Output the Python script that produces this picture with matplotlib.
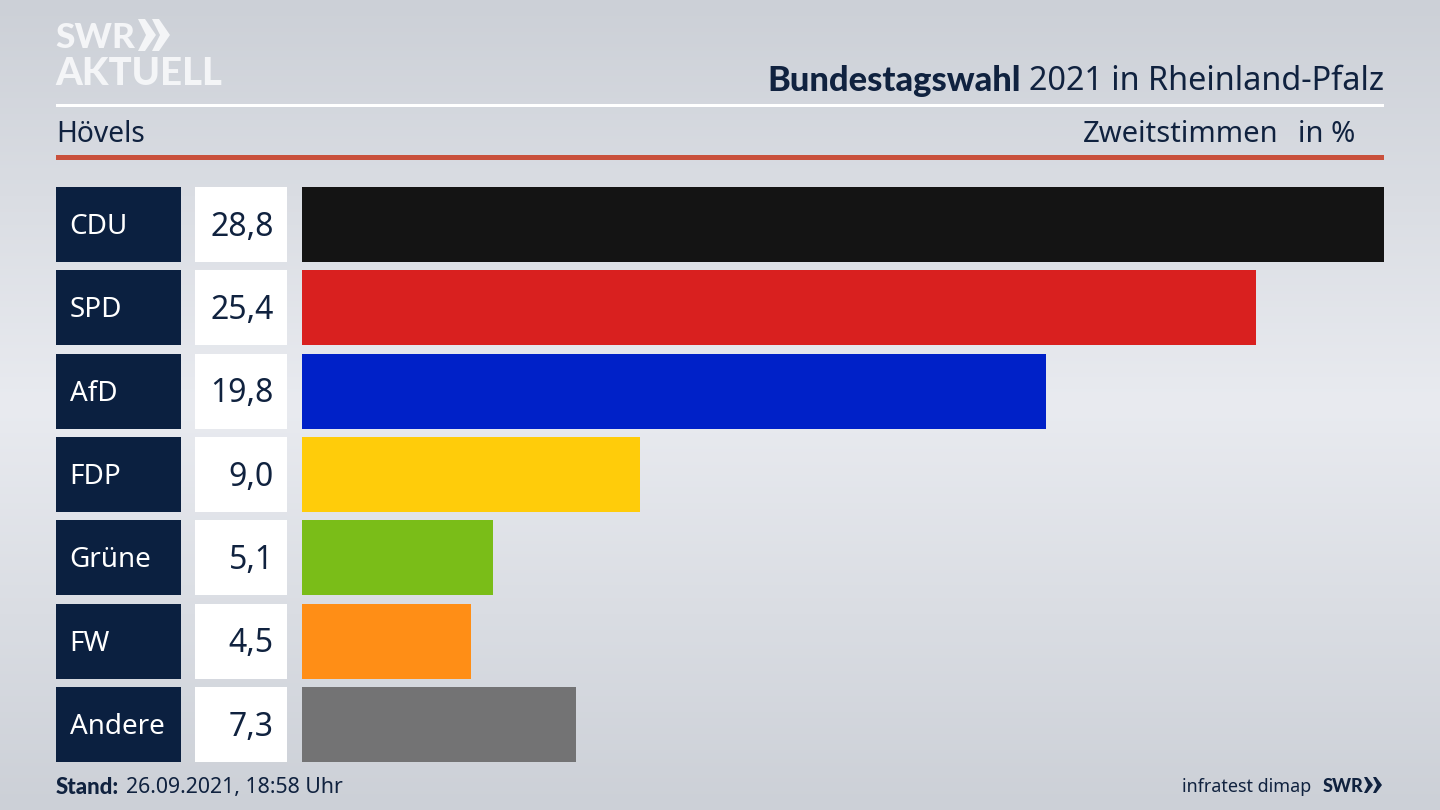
import numpy as np
import matplotlib as mpl
mpl.use('Agg')
import matplotlib.pyplot as plt
from matplotlib.patches import Polygon, Rectangle
from matplotlib.transforms import blended_transform_factory

plt.rcParams['font.family'] = ['Noto Sans', 'DejaVu Sans']

parties = ['CDU', 'SPD', 'AfD', 'FDP', 'Grüne', 'FW', 'Andere']
values = [28.8, 25.4, 19.8, 9.0, 5.1, 4.5, 7.3]
value_labels = ['28,8', '25,4', '19,8', '9,0', '5,1', '4,5', '7,3']
colors = ['#141414', '#d9201f', '#0021c8', '#ffcc0a', '#7abd18', '#ff8e16', '#737374']

NAVY = '#0b2040'
TEXT = '#10223f'
LOGO = '#f4f5f7'
BOLD = ['Lato', 'DejaVu Sans']
W, H = 1440, 810

fig = plt.figure(figsize=(W / 100, H / 100), dpi=100)

# whole figure in pixel coordinates, for background, header and footer
bg = fig.add_axes([0, 0, 1, 1])
bg.set_xlim(0, W)
bg.set_ylim(H, 0)
bg.axis('off')
t = 1 - np.abs(np.linspace(-1, 1, 256))
grad = np.zeros((256, 1, 3))
grad[:, 0, 0] = 204 + 29 * t
grad[:, 0, 1] = 208 + 27 * t
grad[:, 0, 2] = 215 + 25 * t
bg.imshow(grad / 255, extent=[0, W, H, 0], aspect='auto', zorder=0)

# rules
bg.add_patch(Rectangle((56, 104), 1328, 3, color='white', lw=0))
bg.add_patch(Rectangle((56, 155), 1328, 5, color='#c9503c', lw=0))

# logo
bg.text(55, 38, 'SWR', color=LOGO, fontsize=25.5, family=BOLD, fontweight='black', va='center', ha='left')
bg.text(55, 74, 'AKTUELL', color=LOGO, fontsize=27.5, family=BOLD, fontweight='black', va='center', ha='left')
for x0 in (138, 152):
    bg.add_patch(Polygon([(x0, 19), (x0 + 7, 19), (x0 + 18, 35), (x0 + 7, 51), (x0, 51), (x0 + 8, 35)],
                         color=LOGO, lw=0))

# header text
title = bg.text(1384, 81, '2021 in Rheinland-Pfalz', color=TEXT, fontsize=23.3, ha='right', va='center')
fig.canvas.draw()
bb = title.get_window_extent()
bg.text(bb.x0 - 8, 81, 'Bundestagswahl', color=TEXT, fontsize=24.8, family=BOLD, fontweight='black',
        ha='right', va='center')
bg.text(56, 135, 'Hövels', color=TEXT, fontsize=20.3, ha='left', va='center')
bg.text(1278, 135, 'Zweitstimmen', color=TEXT, fontsize=21, ha='right', va='center')
bg.text(1355, 135, 'in %', color=TEXT, fontsize=21, ha='right', va='center')

# footer
bg.text(56, 787, 'Stand:', color=TEXT, fontsize=16, family=BOLD, fontweight='black', ha='left', va='center')
bg.text(126, 787, '26.09.2021, 18:58 Uhr', color=TEXT, fontsize=15.3, ha='left', va='center')
bg.text(1311, 787, 'infratest dimap', color=TEXT, fontsize=12.9, ha='right', va='center')
bg.text(1323, 786, 'SWR', color=TEXT, fontsize=13, family=BOLD, fontweight='black', ha='left', va='center')
for x0 in (1364, 1373):
    bg.add_patch(Polygon([(x0, 777), (x0 + 3, 777), (x0 + 9, 785), (x0 + 3, 793), (x0, 793), (x0 + 4, 785)],
                         color=TEXT, lw=0))

# bars, scaled so the largest value ends at the right margin
ax = fig.add_axes([301.5 / W, 1 - 762 / H, (1384 - 301.5) / W, 575 / H])
ax.patch.set_alpha(0)
ax.axis('off')
ypos = np.arange(len(parties))
ax.barh(ypos, values, height=0.9, color=colors, linewidth=0)
ax.set_xlim(0, 28.8)
ax.set_ylim(len(parties) - 0.55, -0.45)

# label boxes beside the bars
trans = blended_transform_factory(bg.transData, ax.transData)
for y, party, label in zip(ypos, parties, value_labels):
    fig.add_artist(Rectangle((56, y - 0.45), 125, 0.9, transform=trans, color=NAVY, lw=0))
    fig.add_artist(Rectangle((195, y - 0.45), 92, 0.9, transform=trans, color='white', lw=0))
    fig.text(69.5, y + 0.03, party, transform=trans, color='white', fontsize=20, ha='left', va='center')
    fig.text(273.5, y + 0.03, label, transform=trans, color=TEXT, fontsize=23, ha='right', va='center')

fig.savefig('out.png', dpi=100)
plt.close()
